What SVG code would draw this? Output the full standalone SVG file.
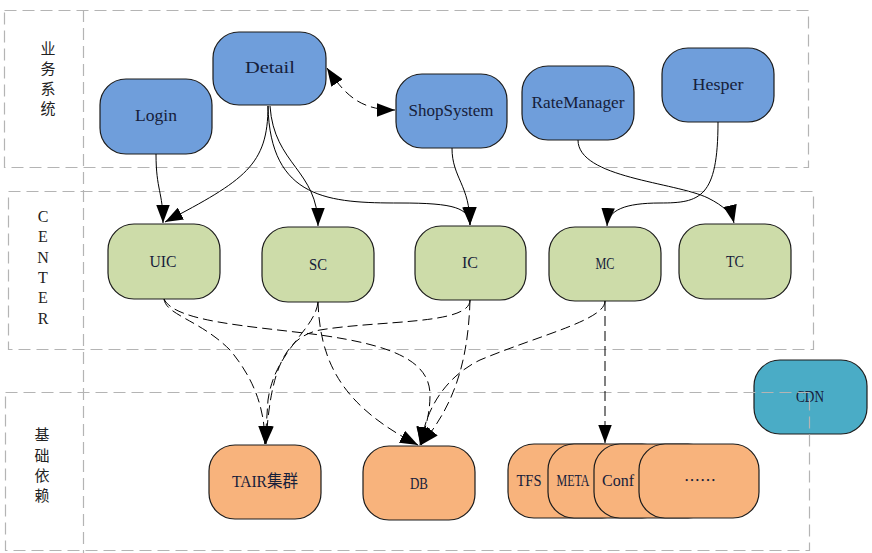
<svg xmlns="http://www.w3.org/2000/svg" width="872" height="553" viewBox="0 0 872 553">
<style>
.lane{fill:none;stroke:#b4b4b4;stroke-width:1.2;stroke-dasharray:12 6}
.n rect{stroke:#1c1c1c;stroke-width:1.2}
.blue rect{fill:#6f9edb}
.green rect{fill:#cddca9}
.orange rect{fill:#f8b37c}
.teal rect{fill:#4aacc6}
.t{font-family:"Liberation Serif","Noto Sans CJK SC",serif;font-size:17px;fill:#16203a;text-anchor:middle}
.cjk{font-family:"Noto Sans CJK SC",sans-serif;font-size:15px;fill:#222;text-anchor:middle}
.lat{font-family:"Liberation Serif",serif;font-size:16px;fill:#222;text-anchor:middle}
.e{fill:none;stroke:#000;stroke-width:1}
.d{fill:none;stroke:#000;stroke-width:1;stroke-dasharray:10 5}
</style>
<defs>
<marker id="ah" markerUnits="userSpaceOnUse" markerWidth="18" markerHeight="14" refX="16" refY="6" orient="auto-start-reverse" viewBox="0 0 16 12">
<path d="M0,0 L16,6 L0,12 Z" fill="#000"/>
</marker>
</defs>
<rect width="872" height="553" fill="#fff"/>

<g id="CDN" class="n teal"><rect x="754" y="360" width="113" height="74" rx="26"/><text class="t" x="810" y="402" textLength="28" lengthAdjust="spacingAndGlyphs">CDN</text></g>

<g id="lanes">
<rect class="lane" x="4.5" y="10.5" width="804" height="157"/>
<rect class="lane" x="8.5" y="191.5" width="805" height="158"/>
<rect class="lane" x="5.5" y="392.5" width="804" height="158"/>
<line class="lane" x1="83.5" y1="10" x2="83.5" y2="553"/>
<text class="cjk" x="48" y="54">业</text>
<text class="cjk" x="48" y="74">务</text>
<text class="cjk" x="48" y="94">系</text>
<text class="cjk" x="48" y="114">统</text>
<text class="lat" x="43" y="222">C</text>
<text class="lat" x="43" y="242">E</text>
<text class="lat" x="43" y="263">N</text>
<text class="lat" x="43" y="283">T</text>
<text class="lat" x="43" y="303">E</text>
<text class="lat" x="43" y="324">R</text>
<text class="cjk" x="42" y="440">基</text>
<text class="cjk" x="42" y="461">础</text>
<text class="cjk" x="42" y="481">依</text>
<text class="cjk" x="42" y="501">赖</text>
</g>

<g id="Detail" class="n blue"><rect x="213" y="32" width="113" height="73" rx="26"/><text class="t" x="270" y="73" textLength="50" lengthAdjust="spacingAndGlyphs">Detail</text></g>
<g id="Login" class="n blue"><rect x="100" y="79" width="112" height="75" rx="26"/><text class="t" x="156" y="121" textLength="42" lengthAdjust="spacingAndGlyphs">Login</text></g>
<g id="ShopSystem" class="n blue"><rect x="396" y="74" width="111" height="74" rx="26"/><text class="t" x="451" y="116" textLength="85" lengthAdjust="spacingAndGlyphs">ShopSystem</text></g>
<g id="RateManager" class="n blue"><rect x="522" y="66" width="112" height="74" rx="26"/><text class="t" x="578" y="108" textLength="93" lengthAdjust="spacingAndGlyphs">RateManager</text></g>
<g id="Hesper" class="n blue"><rect x="662" y="48" width="112" height="74" rx="26"/><text class="t" x="718" y="90" textLength="51" lengthAdjust="spacingAndGlyphs">Hesper</text></g>

<g id="UIC" class="n green"><rect x="108" y="224" width="112" height="75" rx="26"/><text class="t" x="163" y="267" textLength="27" lengthAdjust="spacingAndGlyphs">UIC</text></g>
<g id="SC" class="n green"><rect x="262" y="227" width="112" height="75" rx="26"/><text class="t" x="318" y="270" textLength="18" lengthAdjust="spacingAndGlyphs">SC</text></g>
<g id="IC" class="n green"><rect x="415" y="226" width="111" height="74" rx="26"/><text class="t" x="470" y="268" textLength="16" lengthAdjust="spacingAndGlyphs">IC</text></g>
<g id="MC" class="n green"><rect x="549" y="227" width="112" height="74" rx="26"/><text class="t" x="605" y="269" textLength="19" lengthAdjust="spacingAndGlyphs">MC</text></g>
<g id="TC" class="n green"><rect x="679" y="224" width="112" height="75" rx="26"/><text class="t" x="735" y="267" textLength="18" lengthAdjust="spacingAndGlyphs">TC</text></g>

<g id="TAIR" class="n orange"><rect x="209" y="445" width="112" height="74" rx="26"/><text class="t" x="265" y="487" textLength="66" lengthAdjust="spacingAndGlyphs">TAIR集群</text></g>
<g id="DB" class="n orange"><rect x="363" y="446" width="112" height="74" rx="26"/><text class="t" x="419" y="489" textLength="18" lengthAdjust="spacingAndGlyphs">DB</text></g>
<g id="TFS" class="n orange"><rect x="508" y="444" width="120" height="74" rx="26"/><text class="t" x="529" y="486" textLength="25" lengthAdjust="spacingAndGlyphs">TFS</text></g>
<g id="META" class="n orange"><rect x="548" y="444" width="120" height="74" rx="26"/><text class="t" x="573" y="486" textLength="33" lengthAdjust="spacingAndGlyphs">META</text></g>
<g id="Conf" class="n orange"><rect x="594" y="444" width="120" height="74" rx="26"/><text class="t" x="618" y="486" textLength="32" lengthAdjust="spacingAndGlyphs">Conf</text></g>
<g id="More" class="n orange"><rect x="639" y="444" width="120" height="74" rx="26"/><text class="t" x="700" y="486" style="font-family:'Noto Sans CJK SC',sans-serif;font-size:16px">……</text></g>

<g id="connectors">
<path class="e" d="M156,154 C156,190 163,192 163,223" marker-end="url(#ah)"/>
<path class="e" d="M268,106 C268,165 245,180 165,222" marker-end="url(#ah)"/>
<path class="e" d="M270,106 C274,165 318,170 318,226" marker-end="url(#ah)"/>
<path class="e" d="M268,106 C270,200 330,203 400,203 C455,203 469,208 470,225" marker-end="url(#ah)"/>
<path class="e" d="M452,148 C452,178 470,185 470,225" marker-end="url(#ah)"/>
<path class="e" d="M718,122 C718,198 700,203 660,203 C625,203 608,210 607,226" marker-end="url(#ah)"/>
<path class="e" d="M578,140 C578,178 675,182 708,198 C724,206 732,214 734,223" marker-end="url(#ah)"/>
<path class="d" d="M327,68 C345,95 360,110 395,110" marker-start="url(#ah)" marker-end="url(#ah)"/>
<path class="d" d="M164,299 C166,315 200,320 230,350 C255,380 265,410 265,444" marker-end="url(#ah)"/>
<path class="d" d="M164,299 C175,322 250,326 320,335 C390,345 430,360 430,395 C430,420 422,435 420,445" marker-end="url(#ah)"/>
<path class="d" d="M318,302 C315,330 275,350 268,400 L265,444" marker-end="url(#ah)"/>
<path class="d" d="M318,302 C320,360 340,405 418,445" marker-end="url(#ah)"/>
<path class="d" d="M470,300 C470,325 380,320 320,330 C285,337 270,370 266,444" marker-end="url(#ah)"/>
<path class="d" d="M470,300 C468,370 450,410 421,445" marker-end="url(#ah)"/>
<path class="d" d="M605,301 C605,320 540,335 480,360 C445,377 425,410 421,445" marker-end="url(#ah)"/>
<path class="d" d="M605,301 L605,443" marker-end="url(#ah)"/>
</g>
</svg>
